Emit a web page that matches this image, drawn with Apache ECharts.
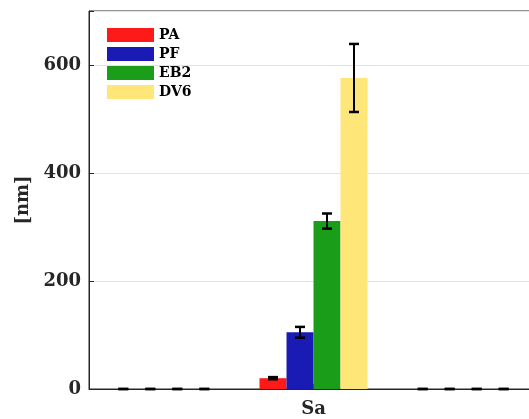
<!DOCTYPE html>
<html>
<head>
<meta charset="utf-8">
<script src="https://cdn.jsdelivr.net/npm/echarts@6/dist/echarts.min.js"></script>
<style>html,body{margin:0;padding:0;background:#fff;overflow:hidden}#c{width:538px;height:419px}</style>
</head>
<body>
<div id="c"></div>
<script>
const categories = ['', 'Sa', ''];
const seriesNames = ['PA', 'PF', 'EB2', 'DV6'];
const PA = [0, 20, 0];
const PF = [0, 105, 0];
const EB2 = [0, 311, 0];
const DV6 = [0, 576, 0];
const PA_err = [0, 2, 0];
const PF_err = [0, 10, 0];
const EB2_err = [0, 14, 0];
const DV6_err = [0, 63, 0];
const yTicks = [0, 200, 400, 600];

const values = [PA, PF, EB2, DV6];
const errors = [PA_err, PF_err, EB2_err, DV6_err];
const colors = ['#ff1a1a', '#1a1ab4', '#1a9e1a', '#ffe678'];
const BAR_W = 27;
const FONT = '"DejaVu Serif", serif';

const chart = echarts.init(document.getElementById('c'));
const series = [];
values.forEach((vals, k) => {
  series.push({
    name: seriesNames[k], type: 'bar', data: vals, barWidth: BAR_W, barGap: '0%',
    itemStyle: { color: colors[k] }, silent: true, z: 2
  });
});
values.forEach((vals, k) => {
  series.push({
    type: 'custom', z: 5, silent: true,
    data: vals.map((v, i) => [i, v, errors[k][i]]),
    encode: { x: 0, y: 1 },
    renderItem: function (params, api) {
      const i = api.value(0), v = api.value(1), e = api.value(2);
      const off = (k - 1.5) * BAR_W;
      const top = api.coord([i, v + e]);
      const bot = api.coord([i, v - e]);
      const x = top[0] + off;
      const cw = 5;
      const st = { stroke: '#000', lineWidth: 2.5 };
      return {
        type: 'group', children: [
          { type: 'line', shape: { x1: x, y1: top[1], x2: x, y2: bot[1] }, style: { stroke: '#000', lineWidth: 2 } },
          { type: 'line', shape: { x1: x - cw, y1: top[1], x2: x + cw, y2: top[1] }, style: st },
          { type: 'line', shape: { x1: x - cw, y1: bot[1], x2: x + cw, y2: bot[1] }, style: st }
        ]
      };
    }
  });
});

chart.setOption({
  animation: false,
  grid: { left: 89, top: 11, bottom: 30, right: 0, show: true, borderColor: '#262626', borderWidth: 1, backgroundColor: 'transparent' },
  legend: {
    data: seriesNames, orient: 'vertical', left: 107, top: 28, padding: 0,
    itemWidth: 47, itemHeight: 14, itemGap: 5, icon: 'rect',
    textStyle: { fontFamily: FONT, fontWeight: 'bold', fontSize: 14, color: '#000' }
  },
  xAxis: {
    type: 'category', data: categories,
    axisLine: { lineStyle: { color: '#262626', width: 1 } },
    axisTick: { show: true, inside: true, length: 5, alignWithLabel: true, interval: (idx) => idx === 1, lineStyle: { color: '#262626' } },
    axisLabel: { fontFamily: FONT, fontWeight: 'bold', fontSize: 18, color: '#262626', margin: 11, interval: 0 }
  },
  yAxis: {
    type: 'value', min: 0, max: 700, interval: 200,
    name: '[nm]', nameLocation: 'middle', nameGap: 47, nameRotate: 90,
    nameTextStyle: { fontFamily: FONT, fontWeight: 'bold', fontSize: 18, color: '#262626' },
    axisLine: { show: true, lineStyle: { color: '#262626', width: 1 } },
    axisTick: { show: true, inside: true, length: 5, lineStyle: { color: '#262626' } },
    axisLabel: { fontFamily: FONT, fontWeight: 'bold', fontSize: 18, color: '#262626', margin: 8,
      formatter: (v) => yTicks.includes(v) ? String(v) : '' },
    splitLine: { show: true, lineStyle: { color: '#e3e3e3', width: 1 } }
  },
  series: series
});
</script>
</body>
</html>
